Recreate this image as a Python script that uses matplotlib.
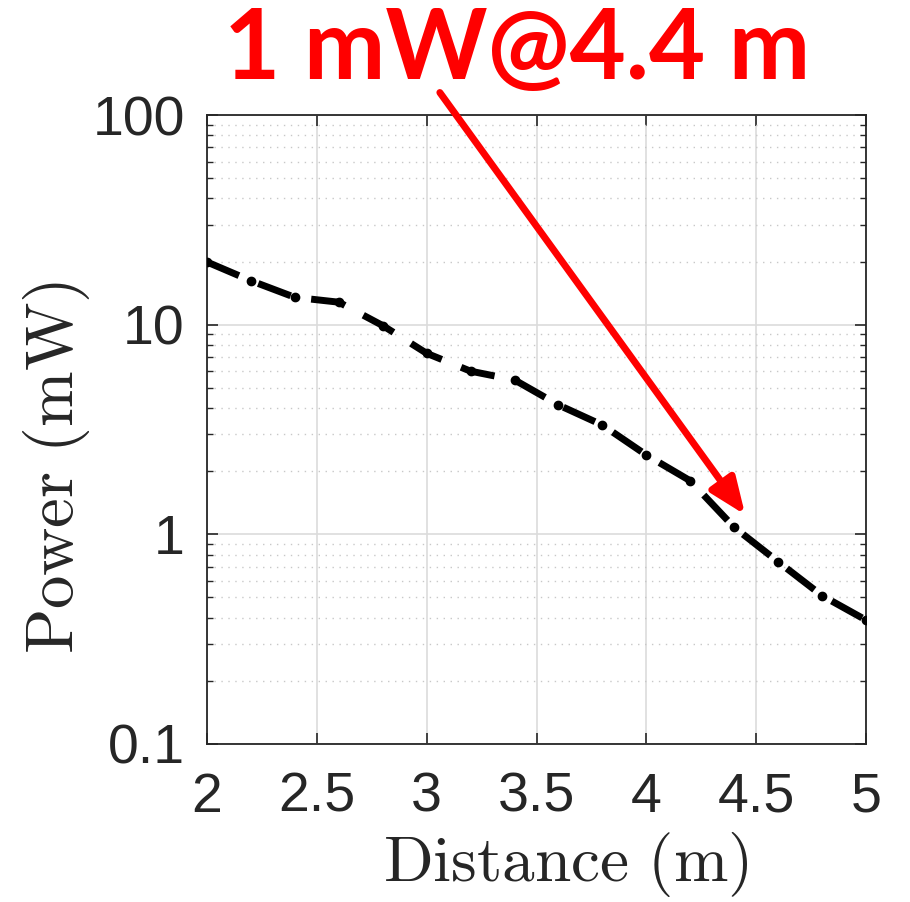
import matplotlib
matplotlib.use("Agg")
import matplotlib.pyplot as plt
import numpy as np
from matplotlib.ticker import LogLocator, NullFormatter

distance = [2.0, 2.2, 2.4, 2.6, 2.8, 3.0, 3.2, 3.4, 3.6, 3.8, 4.0, 4.2, 4.4, 4.6, 4.8, 5.0]
power = [19.9, 16.2, 13.5, 12.8, 9.9, 7.3, 6.0, 5.45, 4.14, 3.32, 2.39, 1.80, 1.08, 0.74, 0.51, 0.39]
xticks = [2, 2.5, 3, 3.5, 4, 4.5, 5]
xticklabels = ["2", "2.5", "3", "3.5", "4", "4.5", "5"]
yticks = [0.1, 1, 10, 100]
yticklabels = ["0.1", "1", "10", "100"]
title = "1 mW@4.4 m"
arrow_start = (3.06, 128)
arrow_end = (4.45, 1.24)

plt.rcParams['mathtext.fontset'] = 'cm'
W, H = 910, 902
fig = plt.figure(figsize=(W/100, H/100), dpi=100)
ax = fig.add_axes([207/W, 1-744/H, (866-207)/W, (744-115)/H])

ax.plot(distance, power, color='black', lw=5, linestyle=(0, (5, 3)),
        marker='o', markersize=6, markerfacecolor='black', markeredgecolor='black',
        solid_capstyle='butt', dash_capstyle='butt', zorder=3)

ax.set_yscale('log')
ax.set_xlim(2, 5)
ax.set_ylim(0.1, 100)
ax.set_xticks(xticks)
ax.set_xticklabels(xticklabels)
ax.set_yticks(yticks)
ax.set_yticklabels(yticklabels)
ax.yaxis.set_minor_locator(LogLocator(base=10, subs=np.arange(2, 10)))
ax.yaxis.set_minor_formatter(NullFormatter())

ax.grid(True, which='major', color='#dcdcdc', lw=1.2, linestyle='-')
ax.grid(True, which='minor', axis='y', color='#c8c8c8', lw=1.0, linestyle=(0, (1, 4)))
ax.set_axisbelow(True)

for s in ax.spines.values():
    s.set_color('#262626')
    s.set_linewidth(1.3)
ax.tick_params(which='both', direction='in', top=True, right=True, colors='#262626')
ax.tick_params(which='major', length=8, width=1.2, labelsize=40)
ax.tick_params(axis='y', which='major', pad=16)
ax.tick_params(axis='x', which='major', pad=20)
ax.tick_params(which='minor', length=4, width=1.0)
for lab in ax.get_xticklabels() + ax.get_yticklabels():
    lab.set_fontfamily('Liberation Sans')
    lab.set_color('#262626')

ax.set_xlabel(r'$\mathrm{Distance\ (m)}$', fontsize=47, color='#262626')
ax.set_ylabel(r'$\mathrm{Power\ (mW)}$', fontsize=48, color='#262626')
ax.xaxis.set_label_coords((566-207)/659, -(830-744)/629)
ax.yaxis.set_label_coords(-(207-92)/659, (744-467)/629)

ax.annotate('', xy=arrow_end, xytext=arrow_start, xycoords='data', textcoords='data',
            annotation_clip=False,
            arrowprops=dict(arrowstyle='-|>,head_length=1.1,head_width=0.45', color='#ff0000',
                            lw=5, shrinkA=0, shrinkB=0, mutation_scale=20))

fig.text(517/W, 1-79/H, title, color='#ff0000', fontsize=70, fontweight='bold',
         family='Lato', ha='center', va='baseline')

fig.savefig('out.png', dpi=100)
